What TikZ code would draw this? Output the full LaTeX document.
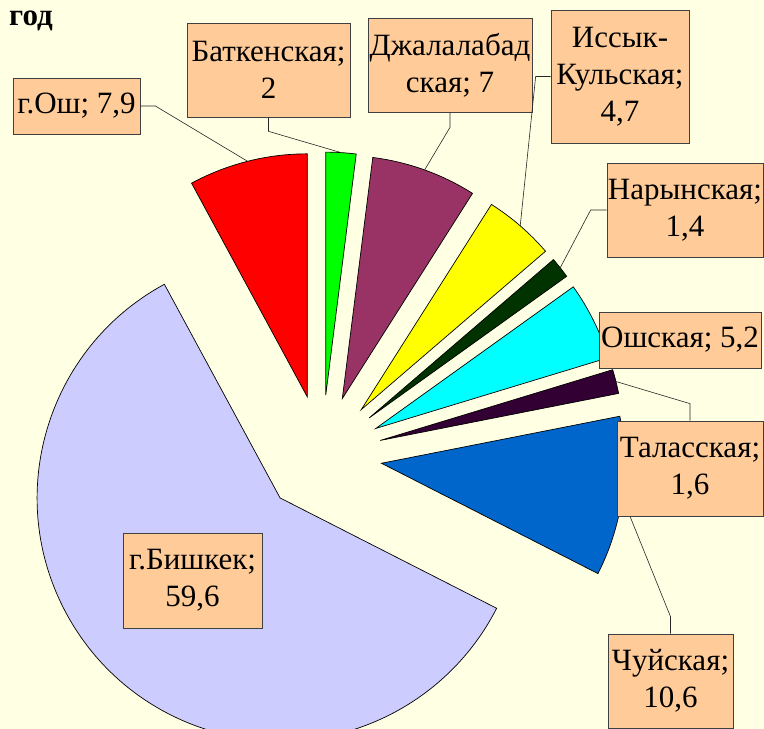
\documentclass[tikz,border=0pt]{standalone}
\usepackage{fontspec}
\setmainfont{Liberation Serif}
\usepackage{xcolor}
\usetikzlibrary{calc}
\definecolor{bgcream}{HTML}{FFFFE3}
\definecolor{lblpeach}{HTML}{FFCC99}
\definecolor{pieRed}{HTML}{FF0000}
\definecolor{pieGreen}{HTML}{00FF00}
\definecolor{piePlum}{HTML}{993366}
\definecolor{pieYellow}{HTML}{FFFF00}
\definecolor{pieForest}{HTML}{003300}
\definecolor{pieCyan}{HTML}{00FFFF}
\definecolor{pieAubergine}{HTML}{330033}
\definecolor{pieBlue}{HTML}{0066CC}
\definecolor{pieLavender}{HTML}{CCCCFF}
\tikzset{
  slice/.style={draw=black, line width=0.7pt, line join=miter},
  lbl/.style={draw=black!75, line width=0.7pt, fill=lblpeach, align=center, inner sep=0pt, font=\fontsize{31}{37}\selectfont},
  leader/.style={draw=black!85, line width=0.6pt},
  heading/.style={font=\bfseries\fontsize{31}{36}\selectfont, inner sep=0pt}
}

\begin{document}
\begin{tikzpicture}[x=1pt,y=1pt]
  \useasboundingbox (0,0) rectangle (764,729);
  \clip (0,0) rectangle (764,729);
  \fill[bgcream] (0,0) rectangle (764,729);
  \coordinate (c) at (322,274);

  \node[heading, anchor=base east] (title) at (53,703) {год};

  % exploded slices, each pushed 60 out along its middle
  \coordinate (ochA) at ($(c)+(104.22:60)$);
  \coordinate (batA) at ($(c)+(86.4:60)$);
  \coordinate (jalA) at ($(c)+(70.2:60)$);
  \coordinate (issA) at ($(c)+(49.14:60)$);
  \coordinate (narA) at ($(c)+(38.16:60)$);
  \coordinate (oshA) at ($(c)+(26.28:60)$);
  \coordinate (talA) at ($(c)+(14.04:60)$);
  \coordinate (chuA) at ($(c)+(-7.92:60)$);
  \coordinate (bisA) at ($(c)+(-134.28:60)$);

  \path[slice, fill=pieRed] (ochA) -- ++(90:243) arc[start angle=90, end angle=118.44, radius=243] -- cycle;
  \path[slice, fill=pieGreen] (batA) -- ++(82.8:243) arc[start angle=82.8, end angle=90, radius=243] -- cycle;
  \path[slice, fill=piePlum] (jalA) -- ++(57.6:243) arc[start angle=57.6, end angle=82.8, radius=243] -- cycle;
  \path[slice, fill=pieYellow] (issA) -- ++(40.68:243) arc[start angle=40.68, end angle=57.6, radius=243] -- cycle;
  \path[slice, fill=pieForest] (narA) -- ++(35.64:243) arc[start angle=35.64, end angle=40.68, radius=243] -- cycle;
  \path[slice, fill=pieCyan] (oshA) -- ++(16.92:243) arc[start angle=16.92, end angle=35.64, radius=243] -- cycle;
  \path[slice, fill=pieAubergine] (talA) -- ++(11.16:243) arc[start angle=11.16, end angle=16.92, radius=243] -- cycle;
  \path[slice, fill=pieBlue] (chuA) -- ++(-27:243) arc[start angle=-27, end angle=11.16, radius=243] -- cycle;
  \path[slice, fill=pieLavender] (bisA) -- ++(-241.56:243) arc[start angle=-241.56, end angle=-27, radius=243] -- cycle;

  \coordinate (ochM) at ($(ochA)+(104.22:243)$);
  \coordinate (batM) at ($(batA)+(86.4:243)$);
  \coordinate (jalM) at ($(jalA)+(70.2:243)$);
  \coordinate (issM) at ($(issA)+(49.14:243)$);
  \coordinate (narM) at ($(narA)+(38.16:243)$);
  \coordinate (talM) at ($(talA)+(14.04:243)$);
  \coordinate (chuM) at ($(chuA)+(-7.92:243)$);

  % labels
  \node[lbl, minimum width=127, minimum height=56] (ochL) at (76.5,623) {г.Ош; 7,9};
  \node[lbl, minimum width=163, minimum height=94] (batL) at (268.5,659) {Баткенская;\\2};
  \node[lbl, minimum width=164, minimum height=94] (jalL) at (450,664) {Джалалабад\\ская; 7};
  \node[lbl, minimum width=138, minimum height=133] (issL) at (620,652.5) {Иссык-\\Кульская;\\4,7};
  \node[lbl, minimum width=156, minimum height=94] (narL) at (685,519) {Нарынская;\\1,4};
  \node[lbl, minimum width=162, minimum height=56] (oshL) at (680,389) {Ошская; 5,2};
  \node[lbl, minimum width=125, minimum height=94] (chuL) at (670.5,48) {Чуйская;\\10,6};
  \node[lbl, minimum width=139, minimum height=95] (bisL) at (192.5,148.5) {г.Бишкек;\\59,6};

  \draw[leader] (ochL.east) -- ++(15,0) -- (ochM);
  \draw[leader] (batL.south) -- ++(0,-14) -- (batM);
  \draw[leader] (jalL.south) -- ++(0,-15) -- (jalM);
  \draw[leader] (issL.west) -- ++(-15,0) -- (issM);
  \draw[leader] (narL.west) -- ++(-16,0) -- (narM);
  \draw[leader] (chuL.north) -- ++(0,17) -- (chuM);

  \node[lbl, minimum width=146, minimum height=95] (talL) at (690,260.5) {Таласская;\\1,6};
  \draw[leader] (talL.north) -- ++(0,17) -- (talM);
\end{tikzpicture}
\end{document}
